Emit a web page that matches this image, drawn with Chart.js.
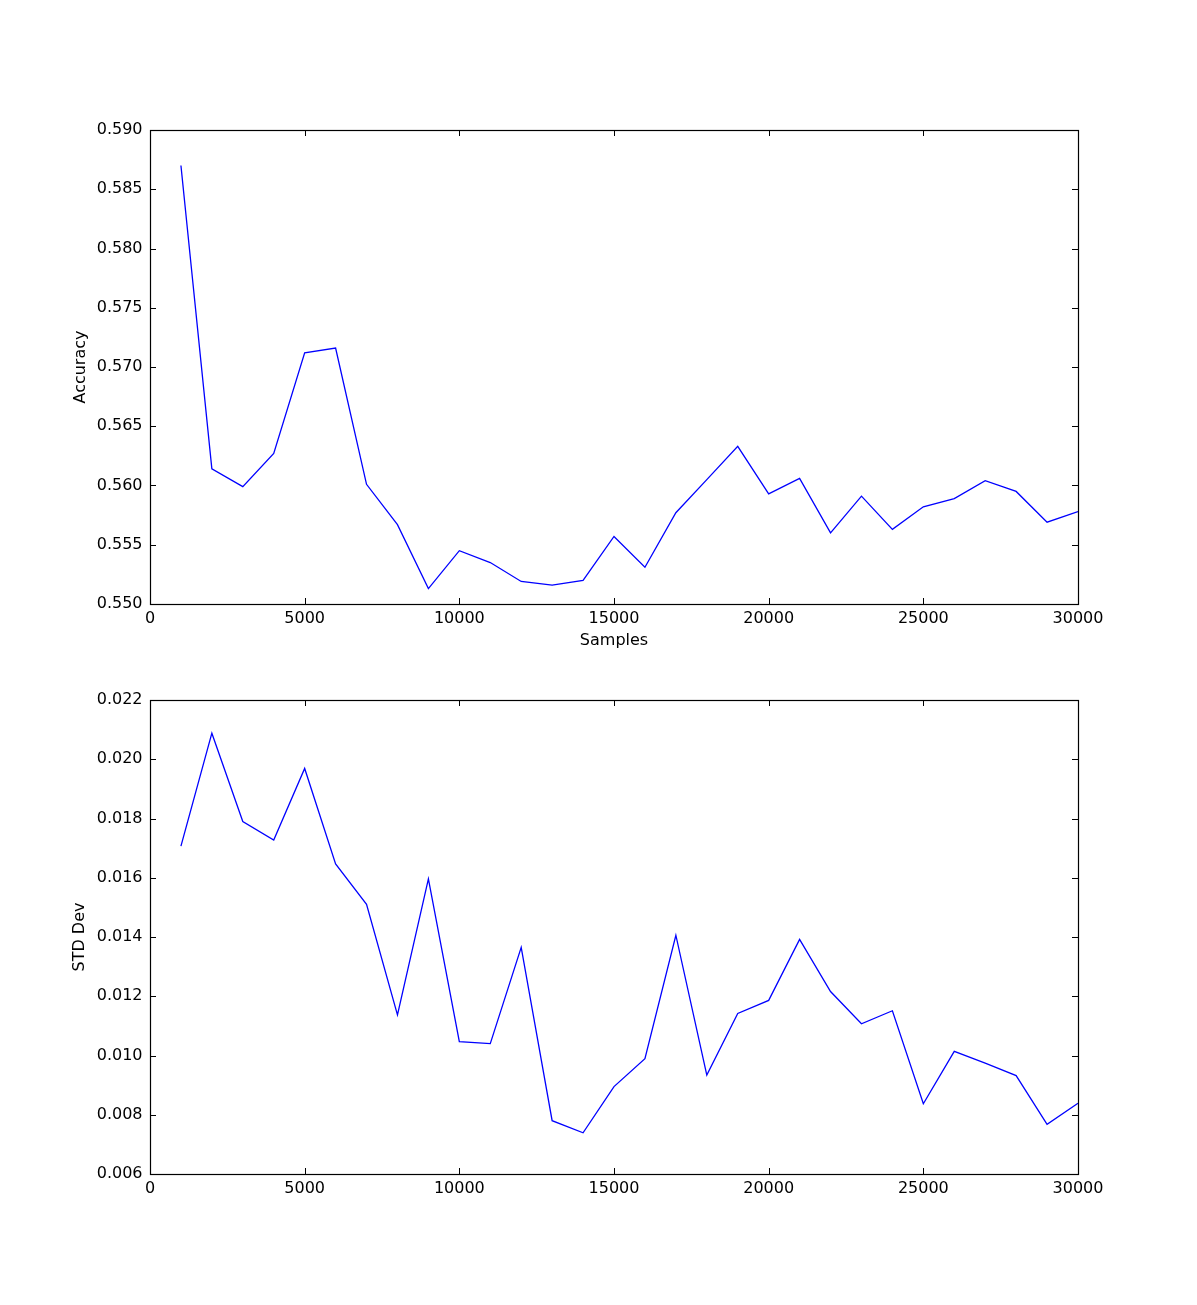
<!DOCTYPE html>
<html>
<head>
<meta charset="utf-8">
<script src="https://cdn.jsdelivr.net/npm/chart.js@4.4.1/dist/chart.umd.min.js"></script>
<style>
  html, body { margin: 0; padding: 0; background: #fff; }
  #wrap { position: relative; width: 1197px; height: 1305px; }
  canvas { position: absolute; left: 0; }
</style>
</head>
<body>
<div id="wrap">
  <canvas id="c1" width="1197" height="652" style="top:0px"></canvas>
  <canvas id="c2" width="1197" height="653" style="top:652px"></canvas>
</div>
<script>
// ---- data ----
const samples = [1000, 2000, 3000, 4000, 5000, 6000, 7000, 8000, 9000, 10000,
                 11000, 12000, 13000, 14000, 15000, 16000, 17000, 18000, 19000, 20000,
                 21000, 22000, 23000, 24000, 25000, 26000, 27000, 28000, 29000, 30000];
const accuracy = [0.5870, 0.5614, 0.5599, 0.5627, 0.5712, 0.5716, 0.5601, 0.5567, 0.5513, 0.5545,
                  0.5535, 0.5519, 0.5516, 0.5520, 0.5557, 0.5531, 0.5577, 0.5605, 0.5633, 0.5593,
                  0.5606, 0.5560, 0.5591, 0.5563, 0.5582, 0.5589, 0.5604, 0.5595, 0.5569, 0.5578];
const stdDev = [0.01707, 0.02088, 0.01790, 0.01727, 0.01969, 0.01647, 0.01510, 0.01137, 0.01596, 0.01047,
                0.01040, 0.01365, 0.00780, 0.00739, 0.00895, 0.00989, 0.01406, 0.00934, 0.01142, 0.01186,
                0.01392, 0.01216, 0.01107, 0.01151, 0.00837, 0.01014, 0.00974, 0.00932, 0.00768, 0.00839];
const xTicksStep = 5000;
const accTicks = { min: 0.550, max: 0.590, step: 0.005 };
const stdTicks = { min: 0.006, max: 0.022, step: 0.002 };

const FONT = { family: "'DejaVu Sans', sans-serif", size: 16 };

const frameTicks = {
  id: 'frameTicks',
  afterDatasetsDraw(chart) {
    const ctx = chart.ctx;
    const a = chart.chartArea;
    const L = 6;
    ctx.save();
    ctx.strokeStyle = '#000';
    ctx.lineWidth = 1;
    ctx.beginPath();
    const xs = chart.scales.x, ys = chart.scales.y;
    xs.ticks.forEach(t => {
      const p = Math.round(xs.getPixelForValue(t.value)) + 0.5;
      ctx.moveTo(p, a.bottom); ctx.lineTo(p, a.bottom - L);
      ctx.moveTo(p, a.top); ctx.lineTo(p, a.top + L);
    });
    ys.ticks.forEach(t => {
      const p = Math.round(ys.getPixelForValue(t.value)) + 0.5;
      ctx.moveTo(a.left, p); ctx.lineTo(a.left + L, p);
      ctx.moveTo(a.right, p); ctx.lineTo(a.right - L, p);
    });
    ctx.stroke();
    ctx.lineWidth = 1.2;
    ctx.strokeRect(a.left + 0.5, a.top + 0.5, a.right - a.left, a.bottom - a.top);
    ctx.restore();
  }
};

function makeChart(id, yVals, yT, yTitle, xTitle, pad, xBoxH) {
  const data = samples.map((s, i) => ({ x: s, y: yVals[i] }));
  return new Chart(document.getElementById(id), {
    type: 'line',
    data: { datasets: [{ data, borderColor: '#0000ff', borderWidth: 1.3, pointRadius: 0, tension: 0, fill: false }] },
    options: {
      responsive: false,
      animation: false,
      layout: { padding: pad },
      plugins: { legend: { display: false }, tooltip: { enabled: false } },
      scales: {
        x: {
          type: 'linear', min: 0, max: 30000,
          grid: { display: false, drawTicks: false },
          border: { display: false },
          ticks: { stepSize: xTicksStep, color: '#000', font: FONT, padding: 5, maxRotation: 0,
                   callback: v => String(v) },
          title: { display: !!xTitle, text: xTitle || '', color: '#000', font: FONT, padding: 0 },
          afterFit: s => { s.height = xBoxH; }
        },
        y: {
          type: 'linear', min: yT.min, max: yT.max,
          grid: { display: false, drawTicks: false },
          border: { display: false },
          ticks: { stepSize: yT.step, color: '#000', font: FONT, padding: 7.5,
                   callback: v => Number(v).toFixed(3) },
          title: { display: true, text: yTitle, color: '#000', font: FONT, padding: 0 },
          afterFit: s => { s.width = 150 - pad.left; }
        }
      }
    },
    plugins: [frameTicks]
  });
}

makeChart('c1', accuracy, accTicks, 'Accuracy', 'Samples',
          { top: 130, left: 71.4, right: 119, bottom: 652 - 604 - 46.5 }, 46.5);
makeChart('c2', stdDev, stdTicks, 'STD Dev', null,
          { top: 48, left: 70.4, right: 119, bottom: 653 - 522 - 40 }, 40);
</script>
</body>
</html>
